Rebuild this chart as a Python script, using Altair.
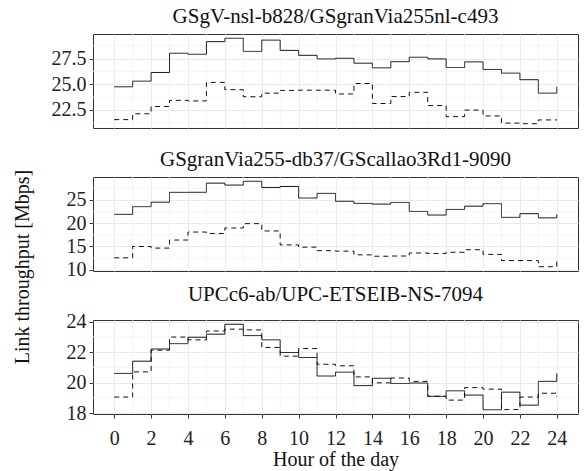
import altair as alt
import pandas as pd

hours = list(range(25))

titles = [
    "GSgV-nsl-b828/GSgranVia255nl-c493",
    "GSgranVia255-db37/GScallao3Rd1-9090",
    "UPCc6-ab/UPC-ETSEIB-NS-7094",
]
y_title = "Link throughput [Mbps]"
x_title = "Hour of the day"

p1_solid = [24.75, 25.30, 26.14, 28.02, 27.92, 29.15, 29.48, 28.20, 29.30, 28.30, 27.82, 27.47,
            27.53, 27.05, 26.60, 27.20, 27.63, 27.47, 26.63, 27.18, 26.44, 26.08, 25.44, 24.13, 24.75]
p1_dashed = [21.55, 22.12, 22.83, 23.43, 23.37, 25.18, 24.47, 23.78, 24.13, 24.40, 24.42, 24.42,
             24.05, 25.07, 23.12, 23.80, 24.21, 22.92, 21.84, 22.48, 21.91, 21.21, 21.15, 21.52, 21.55]

p2_solid = [21.90, 23.55, 24.50, 26.62, 26.63, 28.60, 28.18, 29.00, 27.67, 27.89, 25.40, 26.40,
            24.70, 24.25, 24.10, 24.45, 22.52, 21.75, 22.95, 23.65, 24.20, 21.25, 22.04, 21.15, 21.90]
p2_dashed = [12.57, 15.00, 14.65, 16.38, 18.10, 17.79, 18.97, 19.90, 18.33, 15.33, 14.85, 14.10,
             14.00, 13.20, 12.90, 12.95, 13.60, 13.50, 13.75, 14.30, 13.30, 11.97, 11.97, 10.65, 12.57]

p3_solid = [20.60, 21.40, 22.20, 22.55, 22.97, 23.17, 23.82, 23.08, 22.80, 21.97, 21.64, 20.43,
            20.68, 19.80, 20.28, 19.94, 19.97, 19.10, 19.46, 19.18, 18.22, 19.37, 18.52, 20.08, 20.60]
p3_dashed = [19.05, 20.70, 22.12, 22.98, 22.80, 23.38, 23.50, 23.45, 22.30, 21.73, 22.23, 21.20,
             21.10, 20.37, 19.98, 20.30, 20.08, 19.10, 18.85, 19.67, 19.57, 18.23, 19.05, 19.30, 19.05]

x_major = list(range(0, 25, 2))
x_minor = list(range(1, 25, 2))

y_major = [[22.5, 25.0, 27.5], [10, 15, 20, 25], [18, 20, 22, 24]]
y_minor = [[21.25, 23.75, 26.25, 28.75], [12.5, 17.5, 22.5, 27.5], [19, 21, 23]]
y_fmt = [".1f", "d", "d"]

FONT = "Liberation Serif"
xscale = alt.Scale(domain=[-1.15, 25.15], nice=False, zero=False)


def panel(i, solid, dashed, bottom):
    df = pd.DataFrame({
        "hour": hours * 2,
        "value": solid + dashed,
        "series": ["solid"] * len(hours) + ["dashed"] * len(hours),
    })
    lo = min(solid + dashed)
    hi = max(solid + dashed)
    pad = (hi - lo) * 0.05
    yscale = alt.Scale(domain=[lo - pad, hi + pad], nice=False, zero=False)

    if bottom:
        xaxis = alt.Axis(values=x_major, grid=True, title=x_title,
                         labelFlush=False, labelOverlap=False, labelPadding=10, titlePadding=1)
    else:
        xaxis = alt.Axis(values=x_major, grid=True, labels=False, ticks=False, title=None)

    yaxis = alt.Axis(values=y_major[i], format=y_fmt[i], grid=True, labelOverlap=False,
                     title=None)

    gx = alt.Chart(pd.DataFrame({"hour": x_minor})).mark_rule(
        color="#f3f3f3", strokeWidth=0.8
    ).encode(x=alt.X("hour:Q", scale=xscale, axis=xaxis))
    gy = alt.Chart(pd.DataFrame({"value": y_minor[i]})).mark_rule(
        color="#f3f3f3", strokeWidth=0.8
    ).encode(y=alt.Y("value:Q", scale=yscale, axis=yaxis))

    lines = alt.Chart(df).mark_line(interpolate="step-after", color="#111111", strokeWidth=1).encode(
        x=alt.X("hour:Q", scale=xscale, axis=xaxis),
        y=alt.Y("value:Q", scale=yscale, axis=yaxis),
        strokeDash=alt.StrokeDash("series:N", scale=alt.Scale(domain=["solid", "dashed"],
                                  range=[[1, 0], [5, 4]]), legend=None),
        detail="series:N",
    )
    return alt.layer(gx, gy, lines).properties(
        width=485, height=94,
        title=alt.TitleParams(titles[i], font=FONT, fontSize=21, fontWeight="normal",
                              color="#111111", offset=7),
    )


panels = alt.vconcat(
    panel(0, p1_solid, p1_dashed, False),
    panel(1, p2_solid, p2_dashed, False),
    panel(2, p3_solid, p3_dashed, True),
    spacing=49,
    bounds="flush",
)

ylab = alt.Chart(pd.DataFrame({"t": [y_title]})).mark_text(
    angle=270, font=FONT, fontSize=20, color="#111111"
).encode(
    text="t:N", x=alt.value(10), y=alt.value(233)
).properties(width=20, height=440, view=alt.ViewBackground(strokeOpacity=0))

chart = alt.hconcat(ylab, panels, spacing=16).properties(
    padding={"left": 12, "top": 5, "right": 2, "bottom": 2},
    background="white",
).configure_view(
    stroke="#333333", strokeWidth=1
).configure_axis(
    labelFont=FONT, titleFont=FONT, labelFontSize=20, titleFontSize=20,
    titleFontWeight="normal", labelColor="#222222", titleColor="#111111",
    tickSize=4, tickColor="#333333", domain=False, gridColor="#ebebeb",
    labelPadding=3, titlePadding=2,
)

chart.save("out.html", embed_options={"renderer": "svg", "actions": False})
